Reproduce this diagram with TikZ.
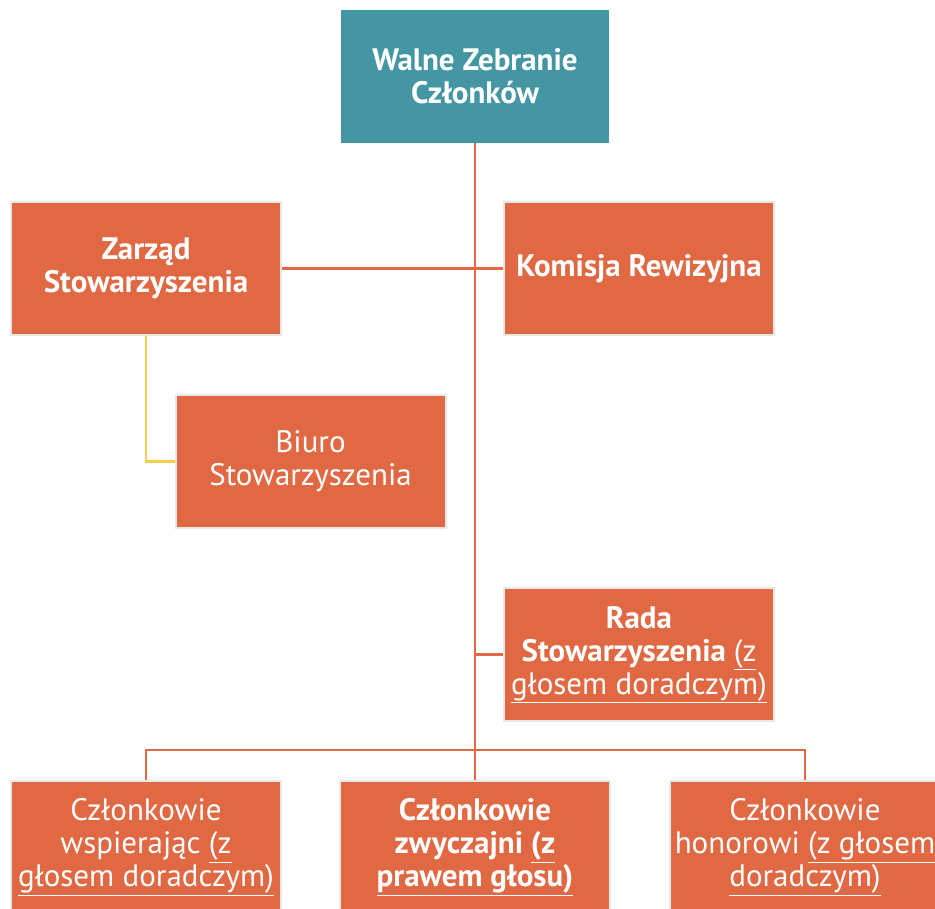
\documentclass[tikz,border=0pt]{standalone}
\usepackage{fontspec}
\setmainfont{PT Sans}
\usetikzlibrary{positioning}

\definecolor{orgbox}{HTML}{E06843}
\definecolor{orgtop}{HTML}{4496A3}
\definecolor{orgline}{HTML}{E06843}
\definecolor{orgyellow}{HTML}{F5CD4F}
\definecolor{orgedge}{HTML}{E8E8E8}

\begin{document}
\begin{tikzpicture}[
    x=1pt, y=-1pt,
    every node/.style={align=center, text=white, inner sep=0pt,
        font=\fontsize{31}{33}\selectfont},
    unit/.style={fill=orgbox, draw=orgedge, line width=2pt,
        minimum width=270pt, minimum height=133pt},
    top/.style={fill=orgtop, minimum width=268pt, minimum height=133pt},
    link/.style={draw=orgline, line width=2.5pt},
    sublink/.style={draw=orgyellow, line width=2.5pt}
]
\useasboundingbox (0,0) rectangle (935,909);

% Top
\node[top] (walne) at (475,76.5) {\bfseries Walne Zebranie\\ \bfseries Członków};

% Row 1
\node[unit] (zarzad) at (146,268.5) {\bfseries Zarząd\\ \bfseries Stowarzyszenia};
\node[unit] (komisja) at (639,268.5) {\bfseries Komisja Rewizyjna};

% Row 2
\node[unit] (biuro) at (310.5,461.5) {Biuro\\ Stowarzyszenia};

% Row 3
\node[unit] (rada) at (639,654.5) {\bfseries Rada\\ \bfseries Stowarzyszenia \underline{\mdseries (z}\\ \underline{głosem doradczym)}};

% Row 4
\node[unit] (wspier) at (146,847) {Członkowie\\ wspierając \underline{(z}\\ \underline{głosem doradczym)}};
\node[unit] (zwycz) at (475,847) {\bfseries Członkowie\\ \bfseries zwyczajni \underline{(z}\\ \underline{\bfseries prawem głosu)}};
\node[unit] (honor) at (805,847) {Członkowie\\ honorowi \underline{(z głosem}\\ \underline{doradczym)}};

\coordinate (trunk) at (walne.south |- zwycz.north);
\coordinate (bus) at (475,750);

\draw[link] (walne.south) -- (trunk);
\draw[link] (zarzad.east) -- (komisja.west);
\draw[link] (walne.south |- rada.west) -- (rada.west);
\draw[link] (wspier.north) |- (bus) -| (honor.north);
\draw[sublink] (zarzad.south) |- (biuro.west);

\end{tikzpicture}
\end{document}
